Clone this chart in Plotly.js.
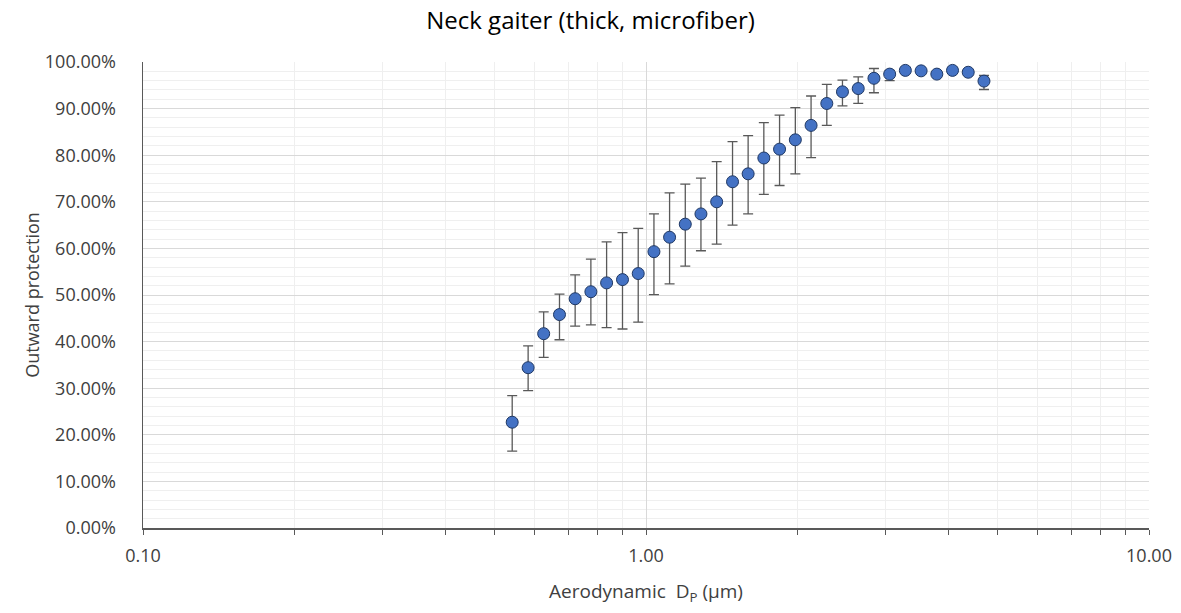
<!DOCTYPE html>
<html>
<head>
<meta charset="utf-8">
<script src="https://cdn.plot.ly/plotly-3.0.1.min.js"></script>
<style>html,body{margin:0;padding:0;background:#fff;}#chart{width:1181px;height:613px;}</style>
</head>
<body>
<div id="chart"></div>
<script>
// Aerodynamic diameter (µm), APS channel midpoints
const diameters = [0.542, 0.583, 0.626, 0.673, 0.723, 0.777, 0.835, 0.898, 0.965, 1.037,
  1.114, 1.197, 1.286, 1.382, 1.486, 1.596, 1.715, 1.843, 1.981, 2.129,
  2.288, 2.458, 2.642, 2.839, 3.051, 3.278, 3.523, 3.786, 4.068, 4.371, 4.698];
// Outward protection (fraction)
const protection = [0.227, 0.344, 0.417, 0.458, 0.492, 0.507, 0.526, 0.533, 0.546, 0.593,
  0.624, 0.652, 0.674, 0.700, 0.743, 0.760, 0.794, 0.813, 0.833, 0.864,
  0.911, 0.936, 0.943, 0.965, 0.974, 0.982, 0.981, 0.974, 0.982, 0.978, 0.959];
// Upper and lower ends of the error bars (fraction)
const upperEnd = [0.284, 0.391, 0.464, 0.502, 0.543, 0.577, 0.614, 0.634, 0.643, 0.674,
  0.719, 0.738, 0.751, 0.786, 0.829, 0.842, 0.870, 0.886, 0.902, 0.927,
  0.952, 0.961, 0.968, 0.986, 0.982, 0.986, 0.985, 0.979, 0.986, 0.983, 0.971];
const lowerEnd = [0.165, 0.295, 0.366, 0.404, 0.433, 0.436, 0.430, 0.427, 0.442, 0.501,
  0.524, 0.562, 0.595, 0.609, 0.650, 0.674, 0.716, 0.735, 0.760, 0.795,
  0.864, 0.906, 0.911, 0.934, 0.960, 0.978, 0.977, 0.969, 0.978, 0.973, 0.941];
const xTickVals = [0.1, 1, 10];
const xTickText = ['0.10', '1.00', '10.00'];

const errPlus = upperEnd.map((u, i) => u - protection[i]);
const errMinus = lowerEnd.map((l, i) => protection[i] - l);

const trace = {
  x: diameters,
  y: protection,
  type: 'scatter',
  mode: 'markers',
  marker: {size: 12, color: '#4472C4', line: {color: '#1F3864', width: 1}},
  error_y: {type: 'data', symmetric: false, array: errPlus, arrayminus: errMinus,
    color: '#595959', thickness: 1.3, width: 5},
  hoverinfo: 'x+y'
};

const font = '"Open Sans", "Noto Sans", sans-serif';
const layout = {
  width: 1181, height: 613,
  margin: {l: 143, r: 32, t: 62, b: 85},
  paper_bgcolor: '#fff', plot_bgcolor: '#fff',
  showlegend: false,
  font: {family: font, color: '#404040', size: 18},
  title: {text: 'Neck gaiter (thick, microfiber)', x: 0.5, xanchor: 'center', y: 0.967, yanchor: 'middle',
    font: {family: font, size: 24, color: '#000'}},
  xaxis: {
    type: 'log', range: [-1, 1],
    tickvals: xTickVals, ticktext: xTickText,
    ticks: 'outside', ticklen: 5, tickcolor: '#595959',
    ticklabelstandoff: 6,
    showline: true, linecolor: '#595959', linewidth: 1.5,
    showgrid: true, gridcolor: '#d9d9d9', gridwidth: 1,
    zeroline: false,
    tickfont: {family: font, size: 18, color: '#404040'},
    minor: {dtick: 'D1', ticks: 'outside', ticklen: 5, tickcolor: '#595959', showgrid: true, gridcolor: '#efefef', gridwidth: 1},
    title: {text: 'Aerodynamic  D<sub>P</sub> (µm)', standoff: 18, font: {family: font, size: 19, color: '#404040'}}
  },
  yaxis: {
    range: [0, 1], dtick: 0.1, tickformat: '.2%',
    ticks: '', showline: true, linecolor: '#595959', linewidth: 1.5,
    ticklabelstandoff: 22,
    showgrid: true, gridcolor: '#d9d9d9', gridwidth: 1,
    zeroline: false,
    tickfont: {family: font, size: 18, color: '#404040'},
    minor: {dtick: 0.02, showgrid: true, gridcolor: '#efefef', gridwidth: 1},
    title: {text: 'Outward protection', standoff: 0, font: {family: font, size: 18, color: '#404040'}}
  }
};

Plotly.newPlot('chart', [trace], layout, {displayModeBar: false, staticPlot: true});
</script>
</body>
</html>
